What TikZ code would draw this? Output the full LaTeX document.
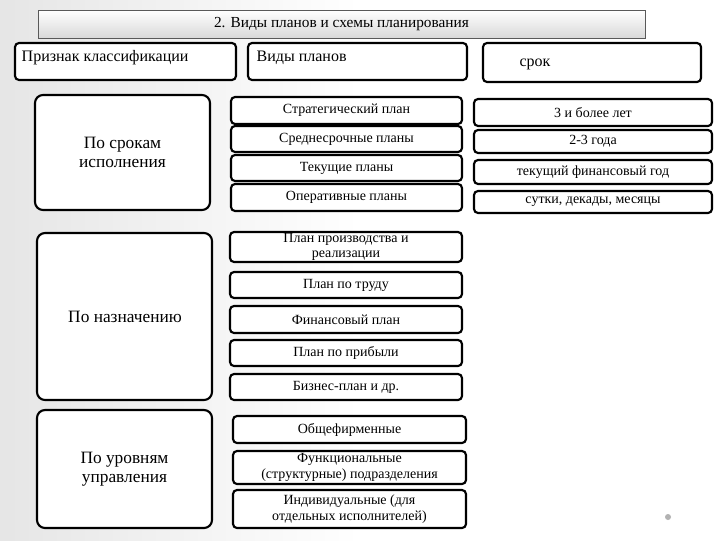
\documentclass[tikz,border=0pt]{standalone}
\usepackage{fontspec}
\setmainfont{Liberation Serif}
\begin{document}
\begin{tikzpicture}[x=0.75pt,y=-0.75pt,
  bx/.style={draw=black,line width=1.6pt,rounded corners=3pt,fill=white,inner sep=0pt},
  sm/.style={font=\fontsize{10.5}{11.5}\selectfont,align=center},
  bg/.style={font=\fontsize{13}{14.5}\selectfont,align=center}]
\useasboundingbox (0,0) rectangle (720,540);
\shade[left color=gray!20,right color=white,middle color=white] (0,0) rectangle (720,540);
% title
\node[draw=gray!70!black,line width=0.6pt,top color=white,bottom color=gray!30,minimum width=607*0.75pt,minimum height=28*0.75pt,font=\fontsize{11.5}{13}\selectfont,inner sep=0pt] (t) at (341.5,24) {2. Виды планов и схемы планирования};
% headers
\node[bx,minimum width=221*0.75pt,minimum height=37*0.75pt] (h1) at (125.5,61.5) {};
\node[anchor=north west,font=\fontsize{12}{13}\selectfont] (h1t) at (17,46) {Признак классификации};
\node[bx,minimum width=219*0.75pt,minimum height=37*0.75pt] (h2) at (357.5,61.5) {};
\node[anchor=north west,font=\fontsize{12}{13}\selectfont] (h2t) at (252,46) {Виды планов};
\node[bx,minimum width=218*0.75pt,minimum height=39*0.75pt] (h3) at (592,62.5) {};
\node[font=\fontsize{12}{13}\selectfont] (h3t) at (535,64) {срок};
% left big boxes
\node[bx,rounded corners=6pt,minimum width=175*0.75pt,minimum height=115*0.75pt,bg] (l1) at (122.5,152.5) {По срокам\\исполнения};
\node[bx,rounded corners=6pt,minimum width=175*0.75pt,minimum height=167*0.75pt,bg] (l2) at (124.5,316.5) {};
\node[bg] (l2t) at (125,317) {По назначению};
\node[bx,rounded corners=6pt,minimum width=175*0.75pt,minimum height=118*0.75pt,bg] (l3) at (124.5,469) {По уровням\\управления};
% middle column
\foreach \n/\y/\h/\t in {a/110.5/27/Стратегический план,b/139/26/Среднесрочные планы,c/168/26/Текущие планы,d/197.5/27/Оперативные планы}
  \node[bx,sm,minimum width=231*0.75pt,minimum height=\h*0.75pt] (\n) at (346.5,\y) {\t};
\foreach \n/\y/\h/\t in {e/247/30/{План производства и\\реализации},f/285/26/План по труду,g/319.5/27/Финансовый план,h/353/26/План по прибыли,i/387/26/Бизнес-план и др.}
  \node[bx,sm,minimum width=232*0.75pt,minimum height=\h*0.75pt] (\n) at (346,\y) {\t};
\foreach \n/\y/\h/\t in {j/429.5/27/Общефирменные,k/467.5/33/{Функциональные\\(структурные) подразделения},l/509/38/{Индивидуальные (для\\отдельных исполнителей)}}
  \node[bx,sm,minimum width=233*0.75pt,minimum height=\h*0.75pt] (\n) at (349.5,\y) {\t};
% right column
\foreach \n/\y/\h/\t in {r1/112.5/27/3 и более лет,r2/141.5/23/2-3 года,r3/172/24/текущий финансовый год,r4/202/22/{сутки, декады, месяцы}}
  \node[bx,sm,minimum width=238*0.75pt,minimum height=\h*0.75pt] (\n) at (593,\y) {\t};
\fill[gray!60] (668,517) circle (3);
\end{tikzpicture}
\end{document}
